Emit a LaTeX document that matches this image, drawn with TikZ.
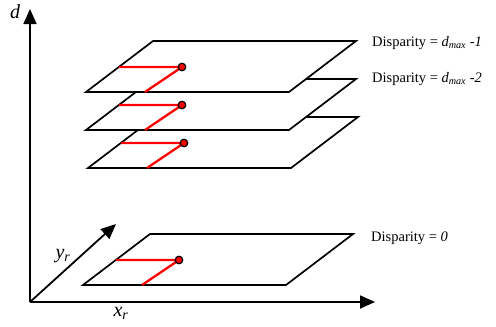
\documentclass[tikz,border=0pt]{standalone}
\usepackage{fontspec}
\setmainfont{Liberation Serif}
\usetikzlibrary{arrows.meta,positioning}

\begin{document}
\begin{tikzpicture}[x=1pt,y=-1pt,
  axis/.style={line width=1.8pt,-{Triangle[length=15pt,width=13pt]}},
  plane/.style={draw,fill=white,line width=1.7pt,line join=miter},
  proj/.style={red,line width=2.3pt},
  pt/.style={circle,draw=black,fill=red,line width=1.2pt,inner sep=0pt,minimum size=7.5pt},
  lab/.style={font=\fontsize{14.5}{17}\selectfont,inner sep=0pt,anchor=west},
  axlab/.style={font=\fontsize{20}{22}\selectfont\itshape,inner sep=0pt}]
\useasboundingbox (0,0) rectangle (496,327);
% axes
\coordinate (o) at (30,302);
\coordinate (dtip) at (30,9);
\coordinate (xtip) at (375,302);
\coordinate (ytip) at (116,224);
\draw[axis] (o) -- (dtip);
\draw[axis] (o) -- (xtip);
\draw[axis] (o) -- (ytip);
\node[axlab] (dlab) at (15,12) {d};
\node[axlab] (xlab) at (121,313) {x\textsubscript{r}};
\node[axlab] (ylab) at (63,256) {y\textsubscript{r}};
% disparity planes, back to front
\foreach \n/\x/\y in {p0/83/285, p3/88/168, p2/86/130, p1/86/92} {
  \draw[plane] (\x,\y) coordinate (\n-bl) -- ++(203,0) -- ++(67,-51) coordinate (\n-tr)
    -- ++(-203,0) -- cycle;
  \coordinate (\n-c) at (\x+96,\y-25);
  \coordinate (\n-l) at (\x+33,\y-25);
  \coordinate (\n-b) at (\x+59,\y);
  \draw[proj] (\n-l) -- (\n-c) -- (\n-b);
  \node[pt] (\n-pt) at (\n-c) {};
}
\node[lab,right=16pt of p1-tr,yshift=-2pt] (l1)
  {Disparity = {\itshape d}\textsubscript{\itshape max} \textit{-1}};
\node[lab,right=16pt of p2-tr] (l2)
  {Disparity = {\itshape d}\textsubscript{\itshape max} \textit{-2}};
\node[lab,right=18pt of p0-tr,yshift=-4pt] (l0) {Disparity = \textit{0}};
\end{tikzpicture}
\end{document}
